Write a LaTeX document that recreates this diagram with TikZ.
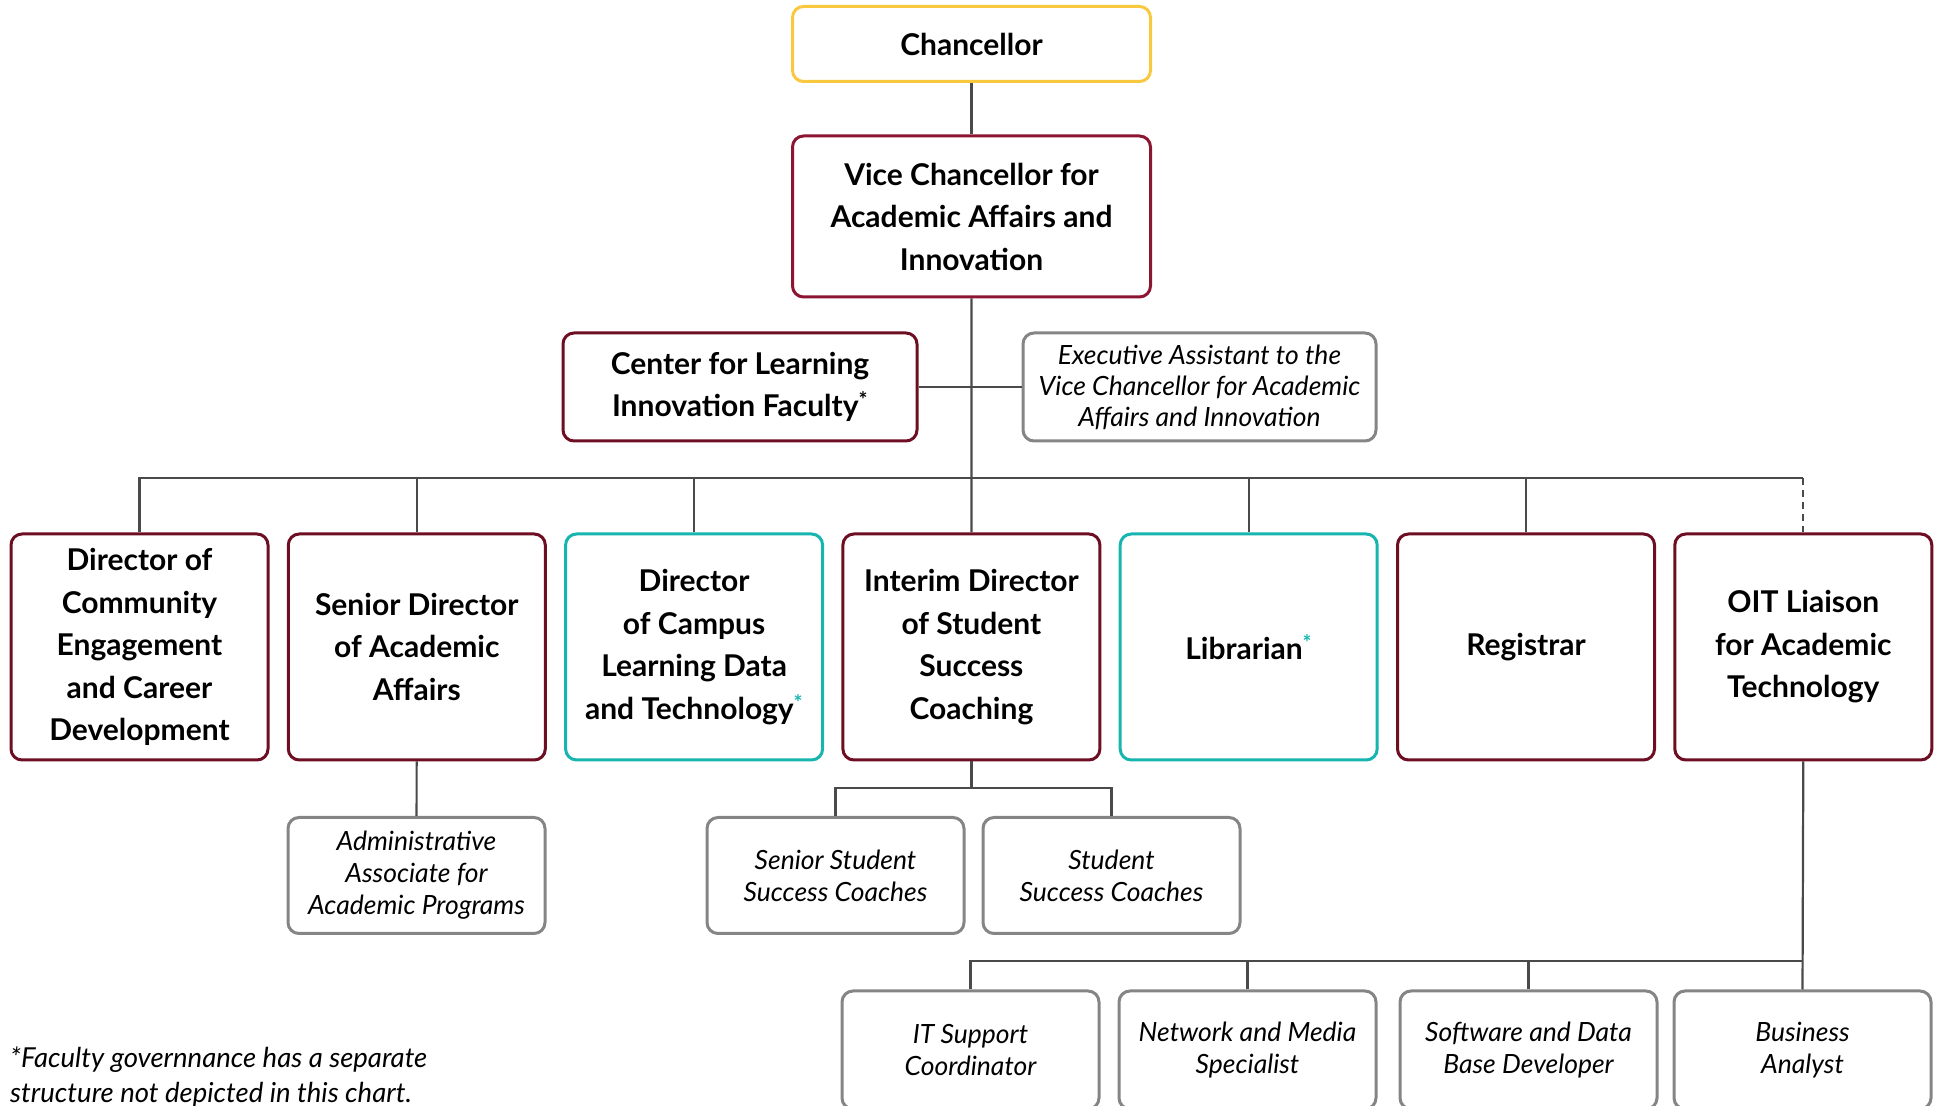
\documentclass[tikz,border=0pt]{standalone}
\usepackage{fontspec}
\setmainfont{Lato}
\usepackage{xcolor}
\definecolor{colorGold}{HTML}{F8C93E}
\definecolor{colorCrimson}{HTML}{8C1632}
\definecolor{colorMaroon}{HTML}{6E0E22}
\definecolor{colorTeal}{HTML}{17B5B0}
\definecolor{colorStaff}{HTML}{858585}
\definecolor{colorLine}{HTML}{4A4A4A}
\usetikzlibrary{positioning}
\newcommand{\headfont}{\fontsize{30}{42.5}\selectfont\bfseries}
\newcommand{\stafffont}{\fontsize{26.5}{32}\selectfont\itshape}
\newcommand{\tealstar}{\textcolor{colorTeal}{\textsuperscript{*}}}
\tikzset{
  orgbox/.style={rectangle, rounded corners=11pt, draw, line width=3pt, fill=white, align=center, inner sep=0pt},
  rowbox/.style={orgbox, minimum width=257pt, minimum height=226pt, font=\headfont},
  staffbox/.style={orgbox, draw=colorStaff, minimum width=257pt, minimum height=116pt, font=\stafffont},
  connector/.style={draw=colorLine, line width=2.2pt}
}

\begin{document}
\begin{tikzpicture}[x=1pt, y=1pt, node distance=277.3pt]
\useasboundingbox (0,0) rectangle (1937,1105);
\node[orgbox, draw=colorGold, minimum width=358pt, minimum height=75pt, font=\headfont] (chan) at (971.5,1061) {Chancellor};
\node[orgbox, draw=colorCrimson, minimum width=358pt, minimum height=161pt, font=\headfont] (vc) at (971.5,888.5) {Vice Chancellor for\\Academic Affairs and\\Innovation};
\node[orgbox, draw=colorMaroon, minimum width=354pt, minimum height=108pt, font=\headfont] (clif) at (740,718) {Center for Learning\\Innovation Faculty\textsuperscript{*}};
\node[orgbox, draw=colorStaff, minimum width=353pt, minimum height=108pt, font=\fontsize{26.5}{31}\selectfont\itshape] (exec) at (1199.5,718) {Executive Assistant to the\\Vice Chancellor for Academic\\Affairs and Innovation};
\node[rowbox, draw=colorMaroon] (dirCE) at (139.5,458) {Director of\\Community\\Engagement\\and Career\\Development};
\node[rowbox, draw=colorMaroon, right of=dirCE] (srDir) {Senior Director\\of Academic\\Affairs};
\node[rowbox, draw=colorTeal, right of=srDir] (campus) {Director\\of Campus\\Learning Data\\and Technology\tealstar};
\node[rowbox, draw=colorMaroon, right of=campus] (interim) {Interim Director\\of Student\\Success\\Coaching};
\node[rowbox, draw=colorTeal, right of=interim] (libr) {Librarian\tealstar};
\node[rowbox, draw=colorMaroon, right of=libr] (regis) {Registrar};
\node[rowbox, draw=colorMaroon, right of=regis] (oit) {OIT Liaison\\for Academic\\Technology};
\node[staffbox] (admin) at (416.5,229.5) {Administrative\\Associate for\\Academic Programs};
\node[staffbox] (ssc1) at (835.5,229.5) {Senior Student\\Success Coaches};
\node[staffbox] (ssc2) at (1111.5,229.5) {Student\\Success Coaches};
\node[staffbox, minimum height=118pt] (itSup) at (970.5,55) {IT Support\\Coordinator};
\node[staffbox, minimum height=118pt] (netMed) at (1247.5,55) {Network and Media\\Specialist};
\node[staffbox, minimum height=118pt] (swDev) at (1528.5,55) {Software and Data\\Base Developer};
\node[staffbox, minimum height=118pt] (analyst) at (1802.5,55) {Business\\Analyst};
\node[anchor=north west, align=left, inner sep=0pt, font=\fontsize{27.5}{35}\selectfont\itshape] (note) at (10,58) {*Faculty governnance has a separate\\structure not depicted in this chart.};
\coordinate (bus) at (0,627);
\coordinate (ssBus) at (0,317);
\coordinate (itBus) at (0,144);
\draw[connector] (chan) -- (vc);
\draw[connector] (vc.south) -- (interim.north);
\draw[connector] (clif.east) -- (exec.west);
\draw[connector] (dirCE.north) |- (oit.north |- bus);
\foreach \n in {srDir, campus, libr, regis} \draw[connector] (\n.north) -- (\n.north |- bus);
\draw[connector, dash pattern=on 7pt off 5pt] (oit.north |- bus) -- (oit.north);
\draw[connector] (srDir) -- (admin);
\draw[connector] (interim.south) -- (interim.south |- ssBus);
\draw[connector] (ssc1.north) |- (ssc2.north |- ssBus) -- (ssc2.north);
\draw[connector] (oit.south) -- (analyst.north);
\draw[connector] (itSup.north) |- (analyst.north |- itBus);
\foreach \n in {netMed, swDev} \draw[connector] (\n.north) -- (\n.north |- itBus);
\end{tikzpicture}
\end{document}
